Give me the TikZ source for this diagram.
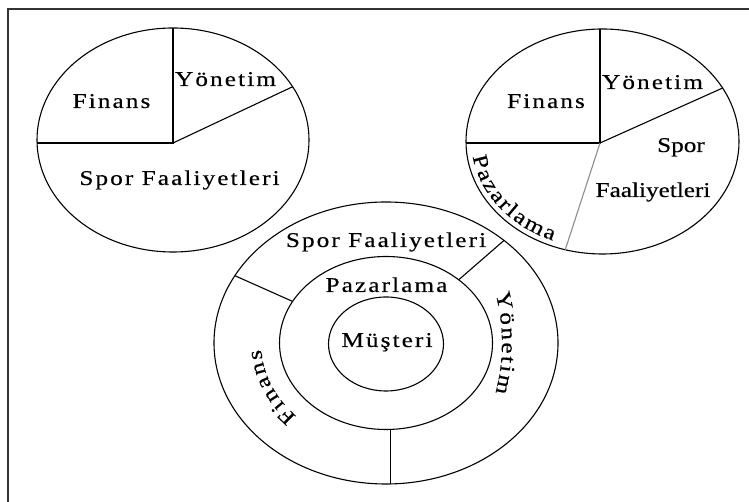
\documentclass[tikz,border=0pt]{standalone}
\usepackage{fontspec}
\setmainfont{Liberation Serif}
\newfontfamily\spacedfont[LetterSpace=10,FakeStretch=1.2,FakeBold=0.4]{Liberation Serif}
\newfontfamily\widefont[FakeStretch=1.2,FakeBold=0.4]{Liberation Serif}
\usetikzlibrary{shapes.geometric,decorations.text}
\newcommand{\lblfont}{\spacedfont\fontsize{21}{25}\selectfont}
\newcommand{\plainlbl}{\widefont\fontsize{21}{25}\selectfont}

\begin{document}
\begin{tikzpicture}[
  x=1pt,y=1pt,
  pie/.style={
    draw,
    ellipse,
    line width=1.1pt,
    inner sep=0pt,
    outer sep=0pt
  },
  cut/.style={line width=1.1pt},
  lbl/.style={anchor=base,inner sep=0pt,font=\lblfont},
  arclbl/.style={decorate,decoration={text effects along path,text={#1},text align=center,
    text effects/.cd,text along path,
    characters={font=\plainlbl,inner xsep=1.05pt},
    character widths={font=\plainlbl,inner xsep=1.05pt}}}
]
  \useasboundingbox (0,0) rectangle (749,502);
  \draw[line width=2pt,black!80] (8,0) -- (8,493) -- (749,493);

  % left pie
  \node[pie,minimum width=272pt,minimum height=224pt] (pieA) at (173,362) {};
  \coordinate (hubA) at (173,359);
  \draw[cut] (pieA.west |- hubA) -- (hubA) -- (hubA |- pieA.north);
  \draw[cut] (hubA) -- (pieA.24);
  \node[lbl] (finA) at (111.5,394) {Finans};
  \node[lbl] (yonA) at (225.5,416) {Yönetim};
  \node[lbl] (sporA) at (179.5,317) {Spor Faaliyetleri};

  % right pie
  \node[pie,minimum width=273pt,minimum height=225pt] (pieB) at (602.5,360.5) {};
  \coordinate (hubB) at (600,359);
  \draw[cut] (pieB.west |- hubB) -- (hubB) -- (hubB |- pieB.north);
  \draw[cut] (hubB) -- (pieB.24);
  \draw[cut,black!45] (hubB) -- (pieB.251);
  \node[lbl] (finB) at (546,394) {Finans};
  \node[lbl] (yonB) at (652.5,413) {Yönetim};
  \node[lbl,font=\plainlbl] (sporB) at (681,350) {Spor};
  \node[lbl,font=\plainlbl] (faalB) at (653,305) {Faaliyetleri};
  \path[arclbl=Pazarlama] (pieB.center) ++(177:131 and 107)
    arc[start angle=177,end angle=257,x radius=131,y radius=107];

  % rings
  \node[pie,minimum width=344pt,minimum height=282pt] (outer) at (386,159) {};
  \node[pie,minimum width=213pt,minimum height=173pt] (middle) at (386,159) {};
  \node[pie,minimum width=115pt,minimum height=94pt] (core) at (386,158) {};
  \draw[cut] (outer.156) -- (middle.156);
  \draw[cut] (outer.41) -- (middle.41);
  \draw[cut] (middle.273) -- (middle.273 |- outer.south);
  \node[lbl] (sporC) at (386,255) {Spor Faaliyetleri};
  \node[lbl] (pazC) at (386.5,210) {Pazarlama};
  \node[lbl] (musC) at (387,155) {Müşteri};
  \path[arclbl=Yönetim] (outer.center) ++(40:116 and 150)
    arc[start angle=40,end angle=-40,x radius=116,y radius=150];
  \path[arclbl=Finans] (outer.center) ++(240:125 and 105)
    arc[start angle=240,end angle=166,x radius=125,y radius=105];
\end{tikzpicture}
\end{document}
